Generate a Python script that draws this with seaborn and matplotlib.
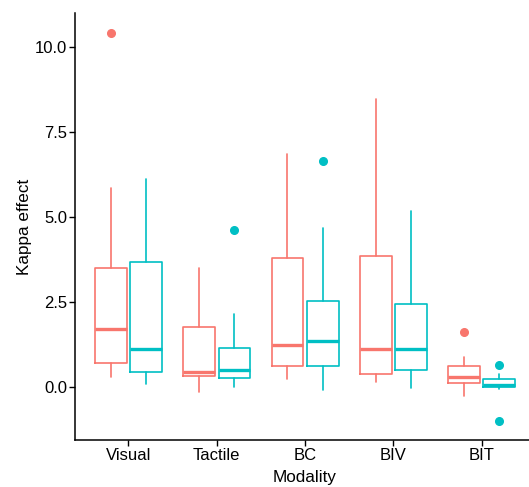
import matplotlib
matplotlib.use("Agg")
import matplotlib.pyplot as plt
import seaborn as sns

sns.set_theme(style="ticks")
plt.rcParams["font.family"] = ["Liberation Sans", "DejaVu Sans"]

modalities = ["Visual", "Tactile", "BC", "BIV", "BIT"]
groups = ["A", "B"]
palette = ["#F8766D", "#00BFC4"]

# box summary per modality, one list per group (red, teal)
whislo = [[0.31, -0.13, 0.24, 0.15, -0.25], [0.10, 0.02, -0.09, -0.02, -0.05]]
q1 = [[0.71, 0.34, 0.62, 0.39, 0.11], [0.45, 0.27, 0.62, 0.50, 0.02]]
med = [[1.72, 0.45, 1.23, 1.12, 0.30], [1.13, 0.50, 1.36, 1.12, 0.07]]
q3 = [[3.50, 1.77, 3.79, 3.87, 0.63], [3.68, 1.15, 2.52, 2.45, 0.23]]
whishi = [[5.84, 3.50, 6.85, 8.48, 0.89], [6.11, 2.15, 4.67, 5.17, 0.40]]
fliers = [[[10.42], [], [], [], [1.62]], [[], [4.62], [6.65], [], [0.65, -0.98]]]

fig = plt.figure(figsize=(5.29, 4.87), dpi=100)
# right edge of the panel runs a little past the image edge, as in the reference
ax = fig.add_axes([0.1427, 0.0965, 0.868, 0.8765])

offsets = [-0.2, 0.2]
for g, color in enumerate(palette):
    stats = []
    for i in range(len(modalities)):
        stats.append({"whislo": whislo[g][i], "q1": q1[g][i], "med": med[g][i],
                      "q3": q3[g][i], "whishi": whishi[g][i],
                      "fliers": fliers[g][i]})
    pos = [i + 1 + offsets[g] for i in range(len(modalities))]
    ax.bxp(stats, positions=pos, widths=0.36, showcaps=False,
           patch_artist=False, manage_ticks=False,
           boxprops=dict(color=color, linewidth=1.2),
           whiskerprops=dict(color=color, linewidth=1.2),
           medianprops=dict(color=color, linewidth=2.4, solid_capstyle="butt"),
           flierprops=dict(marker="o", markersize=5.5, markerfacecolor=color,
                           markeredgecolor=color))

ax.set_xlim(0.4, 5.6)
ax.set_ylim(-1.55, 10.99)
ax.set_xticks(range(1, len(modalities) + 1))
ax.set_xticklabels(modalities)
ax.set_yticks([0, 2.5, 5, 7.5, 10])
ax.set_yticklabels(["0.0", "2.5", "5.0", "7.5", "10.0"])
ax.tick_params(axis="both", labelsize=12, colors="black", length=4,
               width=1, labelcolor="black")
ax.tick_params(axis="x", pad=2)
ax.tick_params(axis="y", pad=2)
ax.set_xlabel("Modality", fontsize=12.3, color="black", labelpad=5)
ax.set_ylabel("Kappa effect", fontsize=12.3, color="black", labelpad=2)
sns.despine(ax=ax)
for side in ["left", "bottom"]:
    ax.spines[side].set_color("black")
    ax.spines[side].set_linewidth(1.1)

fig.savefig("out.png", dpi=100)
